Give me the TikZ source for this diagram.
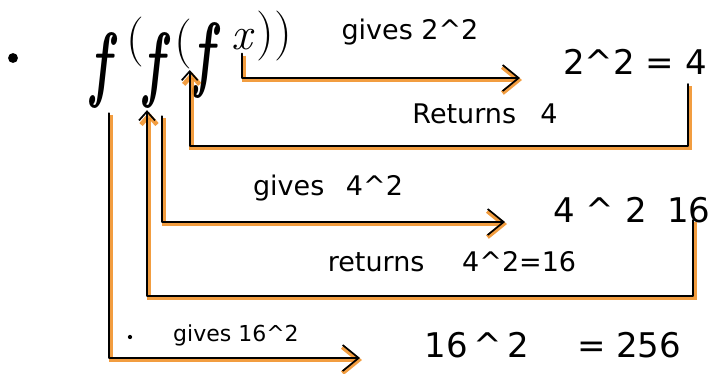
\documentclass[tikz,border=0pt]{standalone}
\usepackage{fontspec}
\newfontfamily\hand{DejaVu Sans}
\usetikzlibrary{arrows.meta}

\definecolor{marker}{RGB}{240,140,30}

\tikzset{
  ink/.style={line width=1.7pt, line join=round, line cap=round,
    preaction={draw=marker, line width=4.5pt, opacity=0.85,
      transform canvas={shift={(2pt,-2pt)}}}},
  gives/.style={ink, -{Straight Barb[length=16pt,width=26pt]}},
  back/.style={ink, -{Straight Barb[length=9pt,width=16pt]}},
  note/.style={font=\hand\fontsize{27}{30}\selectfont, inner sep=0pt},
  result/.style={font=\hand\fontsize{34}{40}\selectfont, inner sep=0pt},
  fun/.style={font=\fontsize{84}{90}\selectfont\bfseries\itshape, inner sep=0pt},
  paren/.style={font=\fontsize{50}{56}\selectfont, inner sep=0pt},
}
\newcommand\narrowf{\scalebox{0.6}[1]{f}}

\begin{document}
\begin{tikzpicture}[x=1pt,y=-1pt]
  \useasboundingbox (0,0) rectangle (715,373);

  % f(f(fx))
  \node[circle, fill, inner sep=3.5pt] (dot) at (13,58) {};
  \node[fun] (f1) at (101,70) {\narrowf};
  \node[paren] (p1) at (135,42) {(};
  \node[fun] (f2) at (154,70) {\narrowf};
  \node[paren] (p2) at (183,44) {(};
  \node[fun] (f3) at (204,60) {\narrowf};
  \node[paren, font=\fontsize{46}{50}\selectfont\itshape] (x) at (242,40) {x};
  \node[paren] (pp) at (274,36) {))};

  % what each call does
  \node[note] (t1) at (410,32) {gives 2\textasciicircum 2};
  \node[result] (r1) at (635,62) {2\textasciicircum 2 = 4};
  \node[note] (t2) at (485,114) {Returns\hspace{0.9em}4};
  \node[note] (t3) at (328,188) {gives\hspace{0.8em}4\textasciicircum 2};
  \node[result] (r2) at (632,210) {4 \textasciicircum\ 2\hspace{0.6em}16};
  \node[note] (t4) at (452,262) {returns\hspace{1.4em}4\textasciicircum 2=16};
  \node[note, font=\hand\fontsize{22}{26}\selectfont] (t5) at (236,335) {gives 16\textasciicircum 2};
  \node[circle, fill, inner sep=1.5pt] (dot2) at (130,337) {};
  \node[result] (r3) at (553,345) {16\,\textasciicircum\,2\hspace{1.4em}= 256};

  % ends of the connectors
  \coordinate (in1) at (520,78);
  \coordinate (out1) at (688,84);
  \coordinate (low1) at (688,146);
  \coordinate (in2) at (505,222);
  \coordinate (out2) at (693,220);
  \coordinate (low2) at (693,296);
  \coordinate (in3) at (360,358);

  \draw[gives] ([yshift=-3pt]x.south) |- (in1);
  \draw[back] (out1) -- (low1) -| ([xshift=-4pt,yshift=-10pt]f3.west);

  \draw[gives] ([xshift=8pt,yshift=-8pt]f2.south) |- (in2);
  \draw[back] (out2) -- (low2) -| ([xshift=-7pt,yshift=-2pt]f2.south);

  \draw[gives] ([xshift=8pt,yshift=-5pt]f1.south) |- (in3);
\end{tikzpicture}
\end{document}
